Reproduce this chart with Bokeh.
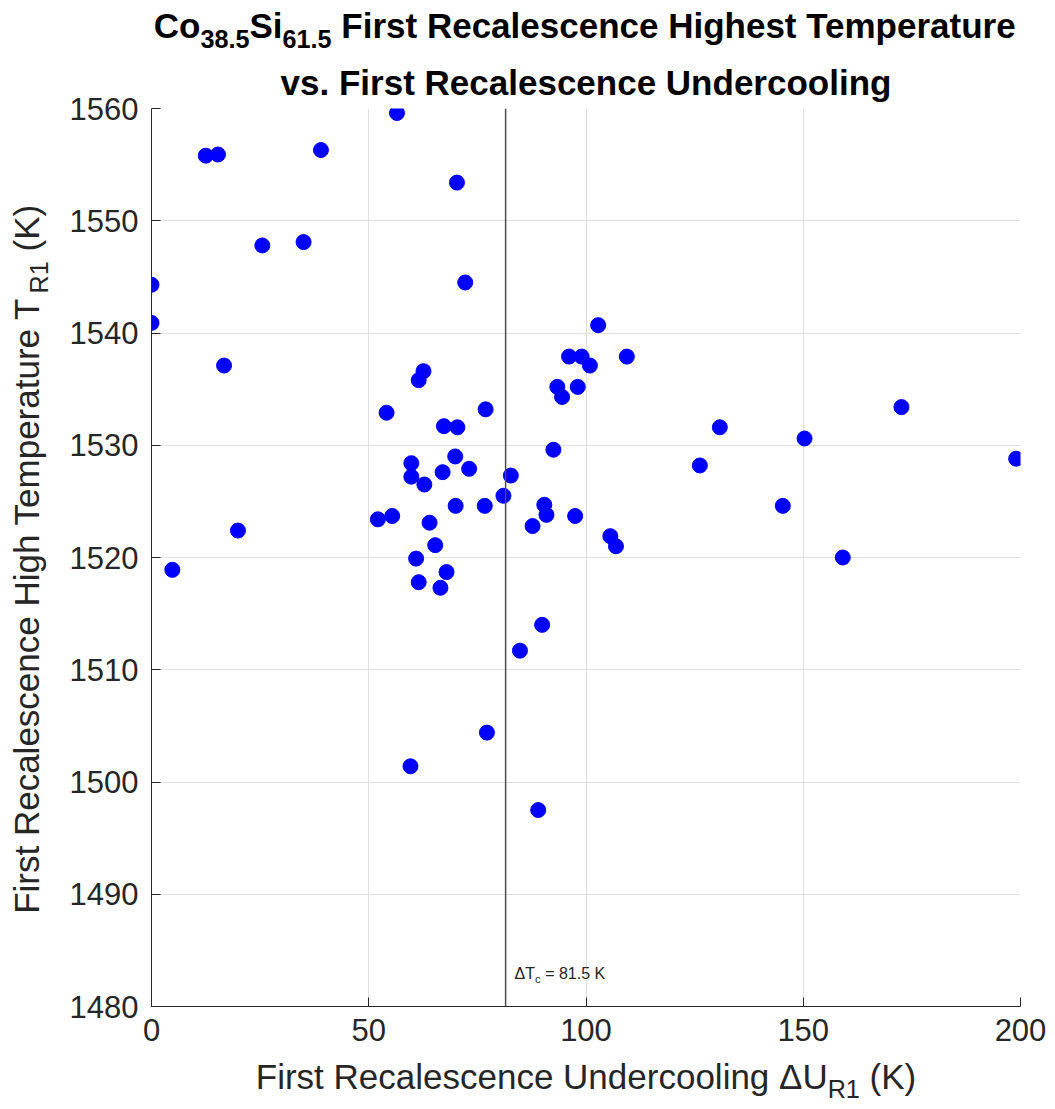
import math
from bokeh.plotting import figure
from bokeh.layouts import column, row
from bokeh.models import FixedTicker, Span, Label, Range1d
from bokeh.embed import file_html
from bokeh.resources import INLINE

# Undercooling (K) and highest recalescence temperature (K) for each sample
undercooling = [56.5, 12.5, 15.3, 39.0, 70.3, 25.5, 35.0, 0.0, 0.0, 72.2,
                16.7, 62.6, 61.5, 54.1, 67.3, 70.4, 76.9, 59.8, 59.8, 62.8,
                69.9, 67.0, 73.1, 82.7, 81.0, 70.0, 76.7, 87.7, 52.1, 55.4,
                64.0, 65.3, 60.9, 67.9, 61.5, 66.5, 19.9, 4.8, 84.8, 77.2,
                89.9, 102.8, 96.1, 99.0, 100.9, 109.4, 93.4, 94.5, 98.1, 92.5,
                130.8, 126.2, 145.3, 90.4, 90.9, 97.5, 105.6, 106.9, 172.6, 150.3,
                199.0, 159.1, 59.6, 89.0]
high_temp = [1559.6, 1555.8, 1555.9, 1556.3, 1553.4, 1547.8, 1548.1, 1544.3, 1540.9, 1544.5,
             1537.1, 1536.6, 1535.8, 1532.9, 1531.7, 1531.6, 1533.2, 1528.4, 1527.2, 1526.5,
             1529.0, 1527.6, 1527.9, 1527.3, 1525.5, 1524.6, 1524.6, 1522.8, 1523.4, 1523.7,
             1523.1, 1521.1, 1519.9, 1518.7, 1517.8, 1517.3, 1522.4, 1518.9, 1511.7, 1504.4,
             1514.0, 1540.7, 1537.9, 1537.9, 1537.1, 1537.9, 1535.2, 1534.3, 1535.2, 1529.6,
             1531.6, 1528.2, 1524.6, 1524.7, 1523.8, 1523.7, 1521.9, 1521.0, 1533.4, 1530.6,
             1528.8, 1520.0, 1501.4, 1497.5]

critical_undercooling = 81.5
x_ticks = [0, 50, 100, 150, 200]
y_ticks = [1480, 1490, 1500, 1510, 1520, 1530, 1540, 1550, 1560]

FONT = "Liberation Sans"
INK = "#262626"

# Page geometry (pixels)
PAGE_W, PAGE_H = 1055, 1109
TITLE_H = 55          # strip holding the first title line
YLAB_W = 60           # strip holding the rotated y label
XLAB_H = 51           # strip holding the x label
MAIN_H = PAGE_H - TITLE_H - XLAB_H
FRAME_L, FRAME_R, FRAME_T, FRAME_B = 151, 1020, 108, 1006
FRAME_CX = (FRAME_L + FRAME_R) / 2
FRAME_CY = (FRAME_T + FRAME_B) / 2

# Bokeh's alphabetic baseline lands about a third of an em low; lift it back
BASELINE_FIX = 0.33

# Arial-compatible advance widths (per 1000 em) for laying out subscript runs
REG = {" ": 278, "(": 333, ")": 333, ".": 278, "=": 584, "C": 722, "F": 611, "H": 722,
       "K": 667, "R": 722, "S": 667, "T": 611, "U": 722, "\u0394": 668, "a": 556, "c": 500,
       "d": 556, "e": 556, "g": 556, "h": 556, "i": 222, "l": 222, "m": 833, "n": 556,
       "o": 556, "p": 556, "r": 333, "s": 500, "t": 278, "u": 556, "v": 500}
BOLD = {" ": 278, ".": 278, "C": 722, "F": 611, "H": 722, "R": 722, "S": 667, "T": 611,
        "U": 722, "a": 556, "c": 556, "d": 611, "e": 556, "g": 611, "h": 611, "i": 278,
        "l": 278, "m": 889, "n": 611, "o": 611, "p": 611, "r": 389, "s": 556, "t": 333,
        "u": 611, "v": 556}


def text_width(s, size, bold=False):
    table = BOLD if bold else REG
    return sum(table.get(ch, 556) for ch in s) * size / 1000.0


def run_width(parts, size, bold=False, sub_scale=0.72):
    return sum(text_width(t, size * sub_scale if sb else size, bold) for t, sb in parts)


def run(fig, parts, x, y, size, color=INK, bold=False, angle=0.0, sub_scale=0.72,
        sub_drop=9, x0=0.0, y0=0.0, place=None):
    """Lay out (text, is_subscript) pieces as consecutive labels from anchor (x, y)."""
    adv = 0.0
    for txt, sub in parts:
        s = size * sub_scale if sub else size
        drop = sub_drop if sub else 0
        lift = BASELINE_FIX * s
        body = txt.lstrip(" ")
        lead = text_width(txt[:len(txt) - len(body)], s, bold)
        if angle == 0:
            xo, yo = x0 + adv + lead, y0 - drop + lift
        else:
            xo, yo = x0 + drop - lift, y0 + adv + lead
        lab = Label(x=x, y=y, x_offset=xo, y_offset=yo, text=body.rstrip(" "),
                    angle=angle, text_font=FONT, text_font_size=f"{s:.1f}px",
                    text_font_style="bold" if bold else "normal",
                    text_color=color, text_align="left", text_baseline="alphabetic")
        if place is None:
            fig.add_layout(lab)
        else:
            fig.add_layout(lab, place)
        adv += text_width(txt, s, bold)


def text_strip(w, h):
    """A bare canvas whose data coordinates are its own pixels (y downwards)."""
    f = figure(width=w, height=h, x_range=Range1d(0, w), y_range=Range1d(h, 0),
               x_axis_type=None, y_axis_type=None, output_backend="svg",
               toolbar_location=None, min_border=0)
    f.grid.visible = False
    f.outline_line_color = None
    f.background_fill_color = "white"
    f.border_fill_color = "white"
    return f


# ---- main scatter plot ----
p = figure(width=PAGE_W - YLAB_W, height=MAIN_H, x_range=(0, 200), y_range=(1480, 1560),
           output_backend="svg", toolbar_location=None,
           min_border_left=FRAME_L - YLAB_W, min_border_right=PAGE_W - FRAME_R,
           min_border_top=FRAME_T - TITLE_H, min_border_bottom=PAGE_H - XLAB_H - FRAME_B)
p.outline_line_color = None
p.background_fill_color = "white"
p.border_fill_color = "white"

p.xaxis.ticker = FixedTicker(ticks=x_ticks)
p.yaxis.ticker = FixedTicker(ticks=y_ticks)
for ax in (p.xaxis, p.yaxis):
    ax.axis_line_color = INK
    ax.axis_line_width = 1
    ax.major_tick_line_color = INK
    ax.major_tick_in = 9
    ax.major_tick_out = 0
    ax.minor_tick_line_color = None
    ax.major_label_text_font = FONT
    ax.major_label_text_font_size = "31px"
    ax.major_label_text_color = INK
p.xaxis.major_label_standoff = 12
p.yaxis.major_label_standoff = 13

for g in (p.xgrid, p.ygrid):
    g.grid_line_color = "#dfdfdf"
    g.grid_line_width = 1

p.scatter(undercooling, high_temp, marker="circle", size=15,
          fill_color="#0000ff", line_color="#0000ff")

p.add_layout(Span(location=critical_undercooling, dimension="height",
                  line_color="#4d4d4d", line_width=1.5))

crit = [("\u0394T", False), ("c", True), (f" = {critical_undercooling} K", False)]
run(p, crit, critical_undercooling, 1480, 16, sub_scale=0.7, sub_drop=4, x0=9, y0=28)

# ---- title: first line in its own strip, second line above the plot frame ----
t_fig = text_strip(PAGE_W, TITLE_H)
title1 = [("Co", False), ("38.5", True), ("Si", False), ("61.5", True),
          (" First Recalescence Highest Temperature", False)]
title2 = [("vs. First Recalescence Undercooling", False)]
w1 = run_width(title1, 35, bold=True)
w2 = run_width(title2, 35, bold=True)
run(t_fig, title1, FRAME_CX - w1 / 2, 37, 35, color="black", bold=True, sub_drop=10)
run(p, title2, 100, 1560, 35, color="black", bold=True,
    x0=-w2 / 2, y0=FRAME_T - 94, place="above")

# ---- y axis title ----
y_fig = text_strip(YLAB_W, MAIN_H)
ylab = [("First Recalescence High Temperature T", False), ("R1", True), (" (K)", False)]
wy = run_width(ylab, 35)
# rotated runs start about 43 px further along than their anchor
run(y_fig, ylab, 38, FRAME_CY - TITLE_H + wy / 2 + 43, 35, angle=math.pi / 2)

# ---- x axis title ----
x_fig = text_strip(PAGE_W, XLAB_H)
xlab = [("First Recalescence Undercooling \u0394U", False), ("R1", True), (" (K)", False)]
wx = run_width(xlab, 35)
run(x_fig, xlab, FRAME_CX - wx / 2, 1088 - (PAGE_H - XLAB_H), 35)

layout = column(t_fig, row(y_fig, p, spacing=0), x_fig, spacing=0)

open("out.html", "w").write(file_html(layout, INLINE))
